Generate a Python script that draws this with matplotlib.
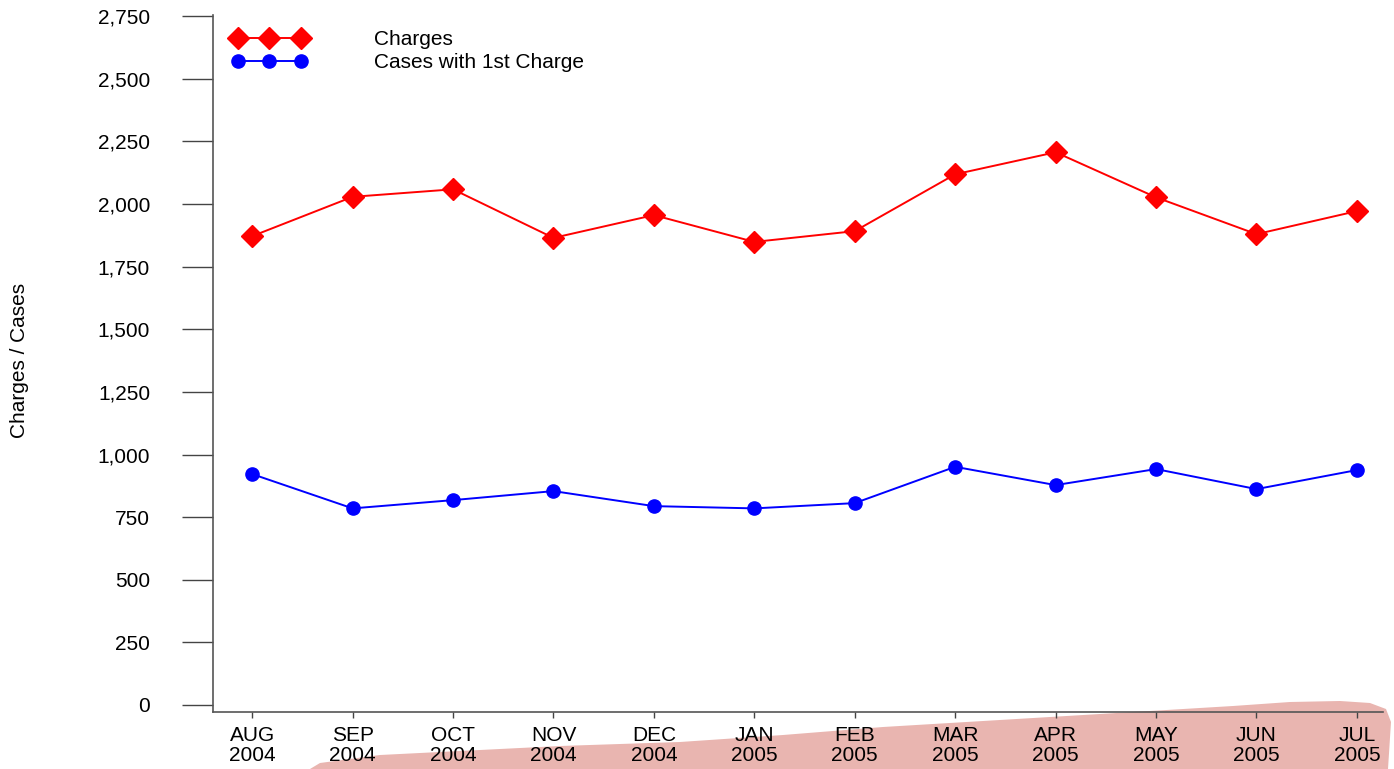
import matplotlib
matplotlib.use("Agg")
from matplotlib import pyplot as plt
from matplotlib.patches import Polygon
from matplotlib.ticker import FuncFormatter

plt.rcParams['font.family'] = ['Liberation Sans', 'DejaVu Sans']

# data
months = ["AUG\n2004", "SEP\n2004", "OCT\n2004", "NOV\n2004", "DEC\n2004", "JAN\n2005",
          "FEB\n2005", "MAR\n2005", "APR\n2005", "MAY\n2005", "JUN\n2005", "JUL\n2005"]
charges = [1872, 2029, 2059, 1865, 1956, 1849, 1892, 2119, 2207, 2027, 1880, 1972]
cases_first = [922, 785, 818, 854, 794, 785, 806, 951, 878, 942, 862, 938]
y_ticks = list(range(0, 2751, 250))

W, H = 1394, 769
fig = plt.figure(figsize=(W / 100, H / 100), dpi=100)
ax = fig.add_axes([213 / W, 1 - 712 / H, (1383 - 213) / W, (712 - 15) / H])
ax.patch.set_visible(False)
ax.set_zorder(1)

# pinkish brush smear behind the bottom labels
smear = [(310, 769), (320, 763), (380, 755), (560, 746), (680, 742), (783, 735),
         (883, 727), (1050, 717), (1150, 711), (1233, 706), (1290, 702), (1340, 701),
         (1370, 703), (1386, 709), (1391, 722), (1388, 769)]
fig.patches.append(Polygon([(x / W, 1 - y / H) for x, y in smear], closed=True,
                           transform=fig.transFigure, facecolor='#e9b5b0',
                           edgecolor='none', zorder=0))

x = list(range(len(months)))
ax.plot(x, charges, color='red', lw=1.4, marker='D', ms=11, mec='red',
        label='Charges', clip_on=False)
ax.plot(x, cases_first, color='blue', lw=1.4, marker='o', ms=9.5, mec='blue',
        label='Cases with 1st Charge', clip_on=False)

ax.set_xlim(-0.39, 11.26)
ax.set_ylim(-28, 2755)
ax.set_xticks(x)
ax.set_xticklabels(months, fontsize=15, linespacing=1.1)
ax.set_yticks(y_ticks)
ax.yaxis.set_major_formatter(FuncFormatter(lambda v, p: f"{int(v):,}"))
ax.tick_params(axis='y', length=22.3, width=1, color='#444444', labelsize=15, pad=23)
ax.tick_params(axis='x', length=4.3, width=1, color='#444444', pad=5.5)

for s in ['top', 'right']:
    ax.spines[s].set_visible(False)
for s in ['left', 'bottom']:
    ax.spines[s].set_color('#555555')
    ax.spines[s].set_linewidth(1.2)

fig.text(20 / W, 1 - 360 / H, "Charges / Cases", rotation=90, fontsize=15,
         ha='center', va='center')

leg = ax.legend(loc='upper left', bbox_to_anchor=(0.0, 1.005), frameon=False,
                fontsize=15, numpoints=3, handlelength=3.6, handletextpad=3.25,
                labelspacing=0.19, borderaxespad=0.5)

fig.savefig("out.png", dpi=100)
